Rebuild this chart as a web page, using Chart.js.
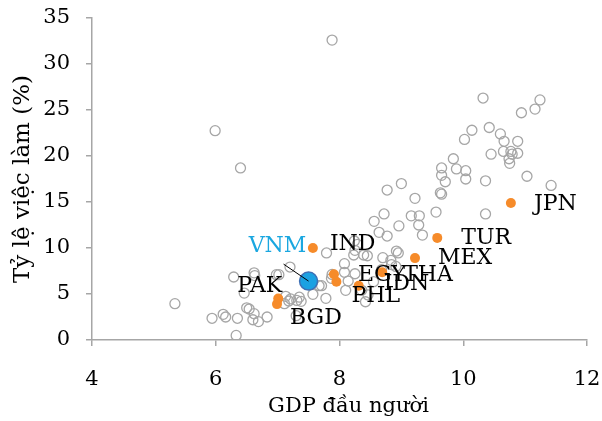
<!DOCTYPE html>
<html>
<head>
<meta charset="utf-8">
<script src="https://cdn.jsdelivr.net/npm/chart.js@4"></script>
<style>
  html, body { margin: 0; padding: 0; background: #fff; }
  #wrap { width: 602px; height: 421px; }
</style>
</head>
<body>
<div id="wrap"><canvas id="scatter"></canvas></div>
<script>
// Other countries (grey rings): GDP per capita (log) and employment rate (%)
const otherGdp = [
  7.88, 5.99, 6.40, 10.32, 11.24, 11.16, 10.94, 10.14, 10.02, 10.42,
  10.60, 10.66, 10.88, 10.45, 10.65, 10.77, 10.79, 10.88, 10.74, 10.75,
  9.84, 9.65, 9.89, 10.04, 9.65, 11.03, 10.36, 10.04, 9.71, 9.00,
  11.42, 8.77, 9.63, 9.65, 9.22, 10.36, 9.56, 9.16, 9.29, 8.72,
  8.56, 8.96, 9.28, 8.64, 8.77, 9.34, 8.24, 8.29, 7.79, 8.08,
  8.23, 8.45, 8.70, 8.83, 8.92, 8.95, 8.25, 8.08, 8.14, 8.10,
  8.25, 8.36, 8.42, 8.46, 8.55, 8.68, 8.84, 8.91, 7.71, 7.87,
  5.34, 5.94, 6.12, 6.16, 6.35, 6.33, 6.50, 6.54, 6.62, 6.60,
  6.69, 6.83, 6.46, 6.29, 6.62, 6.63, 6.98, 7.02, 7.20, 7.13,
  7.21, 7.31, 7.35, 7.38, 7.57, 7.67, 7.78, 7.30, 7.11, 7.18,
  7.88, 8.39
]
const otherRate = [
  32.6, 22.75, 18.7, 26.3, 26.1, 25.1, 24.7, 22.8, 21.8, 23.1,
  22.4, 21.6, 21.6, 20.2, 20.5, 20.5, 20.2, 20.3, 19.7, 19.2,
  19.7, 18.7, 18.6, 18.4, 17.9, 17.8, 17.3, 17.5, 17.2, 17.0,
  16.8, 16.3, 16.0, 15.85, 15.4, 13.7, 13.9, 13.5, 13.5, 13.7,
  12.9, 12.4, 12.5, 11.7, 11.3, 11.4, 10.76, 10.4, 9.46, 8.3,
  9.24, 9.16, 8.95, 8.66, 9.67, 9.46, 9.75, 7.36, 6.41, 5.4,
  7.2, 5.4, 4.16, 4.9, 6.34, 7.64, 8.2, 8.0, 5.9, 6.7,
  3.95, 2.36, 2.79, 2.5, 2.36, 0.5, 3.5, 3.37, 2.86, 2.2,
  2.0, 2.5, 5.1, 6.85, 7.3, 7.0, 7.1, 7.1, 7.93, 4.75,
  4.46, 4.3, 4.65, 4.2, 4.96, 5.9, 4.53, 2.64, 3.95, 4.24,
  7.13, 9.24
]

// Highlighted countries (orange dots)
const peerCodes = ['IND', 'PAK', 'BGD', 'EGY', 'PHL', 'IDN', 'THA', 'MEX', 'TUR', 'JPN']
const peerGdp = [7.57, 7.01, 6.99, 7.91, 7.95, 8.31, 8.69, 9.22, 9.58, 10.77]
const peerRate = [10.0, 4.5, 3.9, 7.14, 6.34, 5.9, 7.36, 8.9, 11.1, 14.9]

// Viet Nam
const vnmGdp = [7.50]
const vnmRate = [6.4]

const xTicks = [4, 6, 8, 10, 12]
const yTicks = [0, 5, 10, 15, 20, 25, 30, 35]
const xTitle = 'GDP đầu người'

const serif = "'DejaVu Serif', serif"
const axisGrey = '#a6a6a6'

// label offsets in pixels from each orange dot (text anchor, middle)
const labelOffsets = {
  IND: [17, -4, 'left'], PAK: [4, -12, 'right'], BGD: [13, 14, 'left'],
  EGY: [24, 1, 'left'], PHL: [15, 15, 'left'], IDN: [25, -1, 'left'],
  THA: [21, 3, 'left'], MEX: [23, 0, 'left'], TUR: [24, 0, 'left'],
  JPN: [23, 1, 'left']
}

const pairs = (xs, ys) => xs.map((x, i) => ({ x: x, y: ys[i] }))

const countryLabels = {
  id: 'countryLabels',
  afterDatasetsDraw(chart) {
    const { ctx, scales, chartArea } = chart
    ctx.save()
    ctx.font = "22px " + serif
    ctx.textBaseline = 'middle'
    ctx.fillStyle = '#000'
    peerCodes.forEach((code, i) => {
      const px = scales.x.getPixelForValue(peerGdp[i])
      const py = scales.y.getPixelForValue(peerRate[i])
      const off = labelOffsets[code]
      ctx.textAlign = off[2]
      ctx.fillText(code, px + off[0], py + off[1])
    })
    // Viet Nam label with a leader line
    const vx = scales.x.getPixelForValue(vnmGdp[0])
    const vy = scales.y.getPixelForValue(vnmRate[0])
    ctx.strokeStyle = '#000'
    ctx.lineWidth = 1
    ctx.beginPath()
    ctx.moveTo(vx - 25, vy - 17)
    ctx.lineTo(vx, vy)
    ctx.stroke()
    ctx.fillStyle = '#1aa7e0'
    ctx.textAlign = 'center'
    ctx.fillText('VNM', vx - 31, vy - 35)

    // x axis title, sits a little right of centre like the original
    ctx.fillStyle = '#000'
    ctx.font = "21px " + serif
    ctx.fillText(xTitle, (chartArea.left + chartArea.right) / 2 + 9, chart.height - 14)
    ctx.restore()
  }
}

new Chart(document.getElementById('scatter'), {
  type: 'scatter',
  data: {
    datasets: [
      {
        data: pairs(vnmGdp, vnmRate),
        order: 0,
        pointRadius: 9,
        backgroundColor: '#1ba1e2',
        borderColor: '#3d6fb5',
        borderWidth: 1.5
      },
      {
        data: pairs(peerGdp, peerRate),
        order: 1,
        pointRadius: 5,
        backgroundColor: '#f68b2a',
        borderWidth: 0
      },
      {
        data: pairs(otherGdp, otherRate),
        order: 2,
        pointRadius: 5,
        backgroundColor: 'rgba(0,0,0,0)',
        borderColor: '#a6a6a6',
        borderWidth: 1.3
      }
    ]
  },
  options: {
    responsive: true,
    maintainAspectRatio: false,
    animation: false,
    layout: { padding: { top: 18, right: 15, left: 9, bottom: 1 } },
    plugins: {
      legend: { display: false },
      tooltip: { enabled: false }
    },
    scales: {
      x: {
        type: 'linear',
        min: 4,
        max: 12,
        afterBuildTicks: (scale) => { scale.ticks = xTicks.map(v => ({ value: v })) },
        afterFit: (scale) => {
          scale.height = 80
          scale.paddingLeft = 0
          scale.paddingRight = 0
        },
        border: { color: axisGrey, width: 1.5 },
        grid: { drawOnChartArea: false, drawTicks: true, tickLength: 6, color: axisGrey, lineWidth: 1.5 },
        ticks: { color: '#000', font: { family: serif, size: 21 }, padding: 21 },
        title: { display: false }
      },
      y: {
        type: 'linear',
        min: 0,
        max: 35,
        afterBuildTicks: (scale) => { scale.ticks = yTicks.map(v => ({ value: v })) },
        afterFit: (scale) => {
          scale.width = 83
          scale.paddingTop = 0
          scale.paddingBottom = 0
        },
        border: { color: axisGrey, width: 1.5 },
        grid: { drawOnChartArea: false, drawTicks: true, tickLength: 6, color: axisGrey, lineWidth: 1.5 },
        ticks: { color: '#000', font: { family: serif, size: 21 }, padding: 16 },
        title: {
          display: true,
          text: 'Tỷ lệ việc làm (%)',
          color: '#000',
          font: { family: serif, size: 23 },
          padding: { top: 0, bottom: 0 }
        }
      }
    }
  },
  plugins: [countryLabels]
})
</script>
</body>
</html>
